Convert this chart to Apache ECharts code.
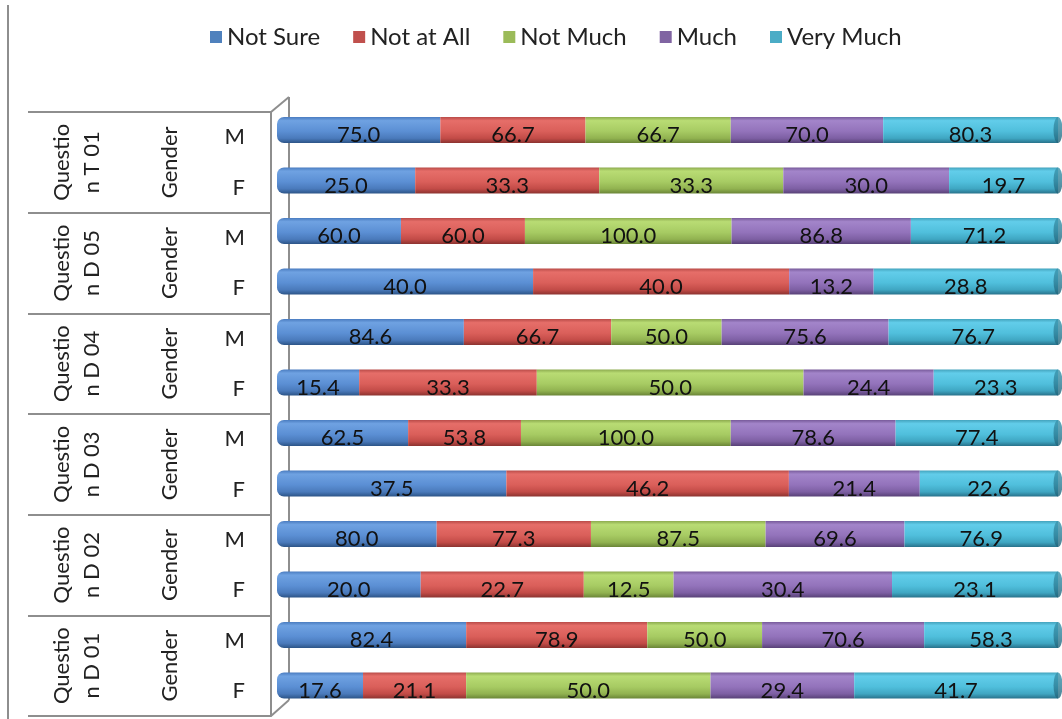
<!DOCTYPE html>
<html>
<head>
<meta charset="utf-8">
<title>Responses by gender</title>
<script src="https://cdn.jsdelivr.net/npm/echarts@6/dist/echarts.min.js"></script>
<style>
  html, body { margin: 0; padding: 0; background: #fff; }
  #chart { width: 1062px; height: 719px; }
</style>
</head>
<body>
<div id="chart"></div>
<script>
// Question groups (top to bottom), each split into a male and a female row
const groups = ['Questio\nn T 01', 'Questio\nn D 05', 'Questio\nn D 04', 'Questio\nn D 03', 'Questio\nn D 02', 'Questio\nn D 01'];
const groupSubtitle = 'Gender';
const genders = ['M', 'F'];

// Percentages per answer, rows in order: T01 M, T01 F, D05 M, D05 F, ... D01 M, D01 F
const notSure   = [75.0, 25.0, 60.0, 40.0, 84.6, 15.4, 62.5, 37.5, 80.0, 20.0, 82.4, 17.6];
const notAtAll  = [66.7, 33.3, 60.0, 40.0, 66.7, 33.3, 53.8, 46.2, 77.3, 22.7, 78.9, 21.1];
const notMuch   = [66.7, 33.3, 100.0, null, 50.0, 50.0, 100.0, null, 87.5, 12.5, 50.0, 50.0];
const much      = [70.0, 30.0, 86.8, 13.2, 75.6, 24.4, 78.6, 21.4, 69.6, 30.4, 70.6, 29.4];
const veryMuch  = [80.3, 19.7, 71.2, 28.8, 76.7, 23.3, 77.4, 22.6, 76.9, 23.1, 58.3, 41.7];

const seriesNames = ['Not Sure', 'Not at All', 'Not Much', 'Much', 'Very Much'];
const seriesValues = [notSure, notAtAll, notMuch, much, veryMuch];

// flat colours for the legend, shaded stops for the cylinder bodies
const flatColors = ['#4F81BD', '#C0504D', '#9BBB59', '#8064A2', '#4BACC6'];
const shades = [
  ['#4a7cc0', '#6fa2e2', '#5b8fd4', '#4a7abb', '#2c5487'],
  ['#b94b48', '#e66e69', '#da5f5a', '#c24b47', '#8c3330'],
  ['#8dab4f', '#b9dc74', '#a7cb63', '#91b250', '#6a8537'],
  ['#775a9a', '#a385ca', '#9373bb', '#7d5fa3', '#584177'],
  ['#43a3bd', '#62cdea', '#50bfdc', '#3fa6c2', '#28728b']
];

const rows = [];
groups.forEach(() => genders.forEach(g => rows.push(g)));
const rowIds = rows.map((g, i) => i);

// each row is shown as a 100% stacked bar
const rowTotals = rowIds.map(i => seriesValues.reduce((s, arr) => s + (arr[i] || 0), 0));

const font = 'Lato, "Noto Sans", sans-serif';
const gray = '#8e8e8e';

function cylinder(stops) {
  return {
    type: 'linear', x: 0, y: 0, x2: 0, y2: 1,
    colorStops: [
      { offset: 0, color: stops[0] },
      { offset: 0.14, color: stops[1] },
      { offset: 0.55, color: stops[2] },
      { offset: 0.82, color: stops[3] },
      { offset: 1, color: stops[4] }
    ]
  };
}

const barSeries = seriesValues.map((vals, si) => ({
  name: seriesNames[si],
  type: 'bar',
  stack: 'share',
  xAxisIndex: 0,
  yAxisIndex: 0,
  barWidth: 26,
  data: vals.map((v, i) => v == null ? null : v / rowTotals[i] * 100),
  itemStyle: {
    color: cylinder(shades[si]),
    borderRadius: si === 0 ? [7, 0, 0, 7] : 0
  },
  label: {
    show: true,
    position: 'inside',
    offset: [0, 5],
    color: '#111',
    fontFamily: font,
    fontSize: 22,
    formatter: p => vals[p.dataIndex] == null ? '' : vals[p.dataIndex].toFixed(1)
  },
  emphasis: { disabled: true },
  z: 3
}));

// darker end faces on the right of every cylinder
const capSeries = {
  name: 'cap',
  type: 'scatter',
  xAxisIndex: 0,
  yAxisIndex: 0,
  symbol: 'circle',
  symbolSize: [9, 26],
  data: rowIds.map(i => [100, i]),
  itemStyle: {
    color: {
      type: 'linear', x: 0, y: 0, x2: 0, y2: 1,
      colorStops: [
        { offset: 0, color: '#3a95ad' },
        { offset: 0.5, color: '#2f8098' },
        { offset: 1, color: '#22647a' }
      ]
    }
  },
  silent: true,
  z: 4
};

const chart = echarts.init(document.getElementById('chart'), null, { renderer: 'canvas' });

chart.setOption({
  animation: false,
  backgroundColor: '#fff',
  legend: {
    left: 205,
    top: 20,
    icon: 'rect',
    itemWidth: 12,
    itemHeight: 12,
    itemGap: 33,
    textStyle: { fontFamily: font, fontSize: 24, color: '#222' },
    data: seriesNames.map((n, i) => ({ name: n, itemStyle: { color: flatColors[i] } }))
  },
  grid: [
    { left: 277, right: 4, top: 104.75, bottom: 8.25 },
    { left: 271, width: 10, top: 112, bottom: 3 }
  ],
  xAxis: [
    { gridIndex: 0, type: 'value', min: 0, max: 100, show: false },
    { gridIndex: 1, type: 'value', show: false }
  ],
  yAxis: [
    { gridIndex: 0, type: 'category', data: rowIds, inverse: true, show: false },
    {
      gridIndex: 1, type: 'category', data: rows, inverse: true, position: 'left', offset: 0,
      axisLine: { show: true, lineStyle: { color: gray, width: 2 } },
      axisTick: { show: false },
      axisLabel: { interval: 0, margin: 26, fontFamily: font, fontSize: 22, color: '#222' }
    },
    {
      gridIndex: 1, type: 'category', data: groups, inverse: true, position: 'left', offset: 0,
      axisLine: { show: false },
      axisTick: { show: true, length: 243, lineStyle: { color: gray, width: 2 } },
      axisLabel: {
        interval: 0, margin: 101, rotate: 90, align: 'center', verticalAlign: 'middle',
        fontFamily: font, fontSize: 22, color: '#222',
        formatter: () => groupSubtitle
      }
    },
    {
      gridIndex: 1, type: 'category', data: groups, inverse: true, position: 'left', offset: 0,
      axisLine: { show: false },
      axisTick: { show: false },
      axisLabel: {
        interval: 0, margin: 194, rotate: 90, align: 'center', verticalAlign: 'middle',
        fontFamily: font, fontSize: 22, color: '#222', lineHeight: 30
      }
    }
  ],
  graphic: [
    // outer frame line on the far left
    { type: 'line', shape: { x1: 8, y1: 5, x2: 8, y2: 719 }, style: { stroke: gray, lineWidth: 2 }, z: 0 },
    // back wall edge and the depth bevels of the category box
    { type: 'line', shape: { x1: 289, y1: 97, x2: 289, y2: 700 }, style: { stroke: gray, lineWidth: 2 }, z: 0 },
    { type: 'line', shape: { x1: 271, y1: 112, x2: 289, y2: 97 }, style: { stroke: gray, lineWidth: 2 }, z: 0 },
    { type: 'line', shape: { x1: 271, y1: 716, x2: 289, y2: 700 }, style: { stroke: gray, lineWidth: 2 }, z: 0 }
  ],
  series: barSeries.concat([capSeries])
});
</script>
</body>
</html>
